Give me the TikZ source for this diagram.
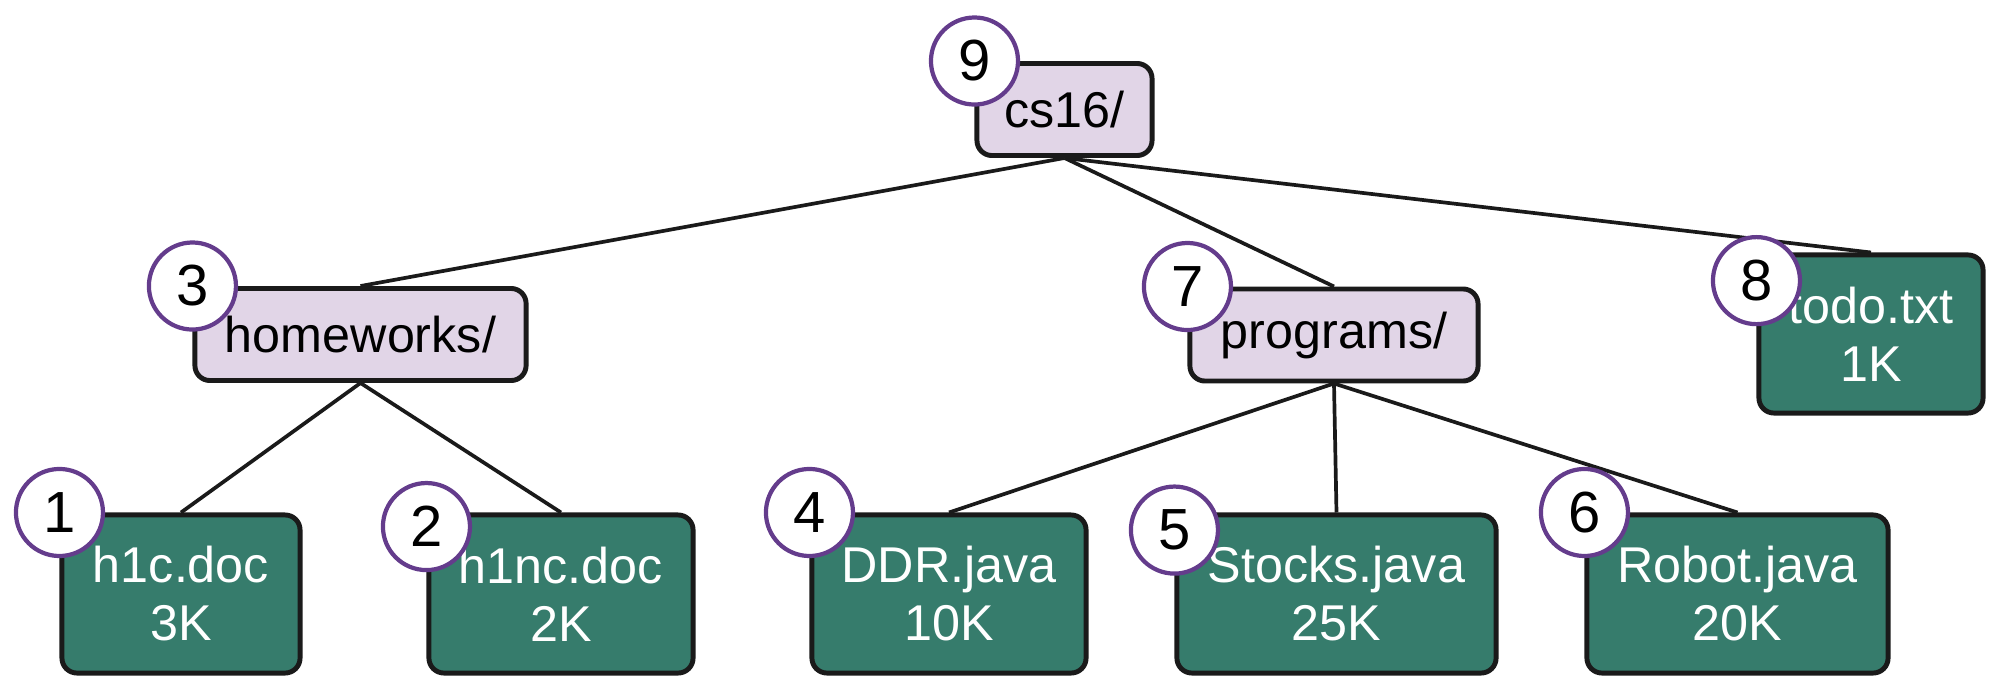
\documentclass[tikz,border=0pt]{standalone}
\usepackage{fontspec}
\setmainfont{Liberation Sans}
\usepackage{tikz}

\definecolor{dirfill}{HTML}{E1D5E7}
\definecolor{filefill}{HTML}{367C6C}
\definecolor{numpurple}{HTML}{643C8C}
\definecolor{boxline}{HTML}{1A1A1A}

\begin{document}
\begin{tikzpicture}[x=0.01cm, y=-0.01cm,
    dirbox/.style={draw=boxline, line width=1.4pt, rounded corners=0.15cm, fill=dirfill,
      minimum height=0.92cm, inner sep=0pt, font=\fontsize{14.3}{16.5}\selectfont},
    filebox/.style={draw=boxline, line width=1.4pt, rounded corners=0.15cm, fill=filefill,
      text=white, align=center, minimum height=1.58cm, inner sep=0pt,
      font=\fontsize{14.3}{16.5}\selectfont},
    numcirc/.style={circle, draw=numpurple, line width=1.2pt, fill=white,
      minimum size=0.87cm, inner sep=0pt, font=\fontsize{16.5}{18}\selectfont},
    link/.style={draw=boxline, line width=1.05pt}]
  \useasboundingbox (0,0) rectangle (2008,700);
  % Draw directories
  \node[dirbox, minimum width=1.75cm] (cs) at (1064.5,109.5) {cs16/};
  \node[dirbox, minimum width=3.31cm] (hw) at (360.5,334.5) {homeworks/};
  \node[dirbox, minimum width=2.88cm] (prog) at (1334,335) {programs/};
  % Draw files
  \node[filebox, minimum width=2.24cm] (todo) at (1871,334) {todo.txt\\1K};
  \node[filebox, minimum width=2.38cm] (hic) at (181,594) {h1c.doc\\3K};
  \node[filebox, minimum width=2.64cm] (hinc) at (561,594) {h1nc.doc\\2K};
  \node[filebox, minimum width=2.74cm] (ddr) at (949,594) {DDR.java\\10K};
  \node[filebox, minimum width=3.19cm] (stocks) at (1336.5,594) {Stocks.java\\25K};
  \node[filebox, minimum width=3.01cm] (robot) at (1737.5,594) {Robot.java\\20K};
  % Draw links
  \draw[link] (cs.south) -- (hw.north);
  \draw[link] (cs.south) -- (prog.north);
  \draw[link] (cs.south) -- (todo.north);
  \draw[link] (hw.south) -- (hic.north);
  \draw[link] (hw.south) -- (hinc.north);
  \draw[link] (prog.south) -- (ddr.north);
  \draw[link] (prog.south) -- (stocks.north);
  \draw[link] (prog.south) -- (robot.north);
  % Draw order numbers
  \node[numcirc] (n9) at (cs.north west) {9};
  \node[numcirc] (n3) at (hw.north west) {3};
  \node[numcirc] (n7) at (prog.north west) {7};
  \node[numcirc] (n8) at ([yshift=-8]todo.north west) {8};
  \node[numcirc] (n1) at (hic.north west) {1};
  \node[numcirc] (n2) at ([yshift=-4]hinc.north west) {2};
  \node[numcirc] (n4) at (ddr.north west) {4};
  \node[numcirc] (n5) at ([yshift=-5]stocks.north west) {5};
  \node[numcirc] (n6) at (robot.north west) {6};
\end{tikzpicture}
\end{document}
